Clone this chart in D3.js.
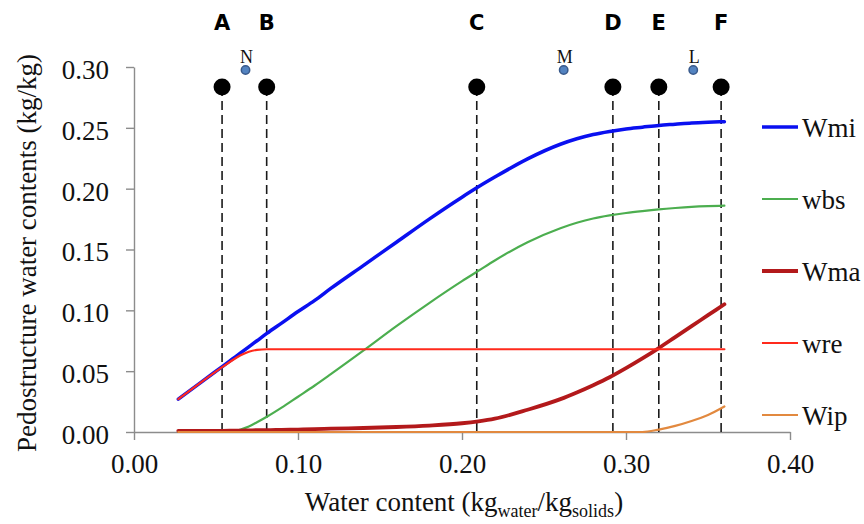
<!DOCTYPE html>
<html><head><meta charset="utf-8">
<script src="https://cdn.jsdelivr.net/npm/d3@7"></script>
<style>
html,body{margin:0;padding:0;background:#fff;}
svg{display:block;}
.serif{font-family:"Liberation Serif","Times New Roman","DejaVu Serif",serif;}
</style>
</head><body>
<svg id="chart" width="864" height="524"></svg>
<script>
// ---- data ----
const waterContent = [0.027,0.04,0.054,0.06,0.065,0.07,0.075,0.081,0.09,0.10,0.11,0.12,0.14,0.16,0.18,0.20,0.21,0.22,0.24,0.26,0.27,0.28,0.29,0.30,0.31,0.32,0.33,0.34,0.35,0.36];
const Wmi = [0.027,0.040,0.054,0.060,0.065,0.070,0.075,0.081,0.0895,0.099,0.108,0.118,0.137,0.156,0.175,0.193,0.2015,0.2095,0.2245,0.2365,0.241,0.2445,0.247,0.249,0.2505,0.252,0.253,0.254,0.2546,0.255];
const wbs = [0,0,0,0,0.002,0.0045,0.008,0.0125,0.020,0.029,0.038,0.0475,0.067,0.087,0.106,0.124,0.1325,0.141,0.156,0.1675,0.172,0.1755,0.178,0.180,0.1816,0.183,0.1841,0.185,0.1856,0.186];
const Wma = [0.001,0.001,0.001,0.0011,0.0012,0.0013,0.0015,0.0015,0.0018,0.002,0.0023,0.0027,0.0033,0.0041,0.0053,0.0072,0.0088,0.011,0.0183,0.027,0.0325,0.0385,0.045,0.0525,0.0605,0.069,0.078,0.087,0.096,0.105];
const wre = [0.027,0.040,0.0535,0.059,0.063,0.066,0.0675,0.068,0.068,0.068,0.068,0.068,0.068,0.068,0.068,0.068,0.068,0.068,0.068,0.068,0.068,0.068,0.068,0.068,0.068,0.068,0.068,0.068,0.068,0.068];
const Wip = [0,0,0,0,0,0,0,0,0,0,0,0,0,0,0,0,0,0,0,0,0,0,0,0,0,0.002,0.005,0.009,0.014,0.021];

const seriesNames = ["Wmi","wbs","Wma","wre","Wip"];
const seriesValues = [Wmi, wbs, Wma, wre, Wip];
const seriesColors = ["#0a10f0","#4cae4f","#b3191b","#ff2a1c","#e2893f"];
const seriesWidths = [3.5, 2.2, 3.8, 2.2, 2.2];

const stageLabels = ["A","B","C","D","E","F"];
const stageX = [0.0537, 0.0809, 0.209, 0.292, 0.320, 0.358];
const stageY = 0.2835;

const pointLabels = ["N","M","L"];
const pointX = [0.068, 0.262, 0.341];
const pointY = 0.2975;

const xTicks = [0.00,0.10,0.20,0.30,0.40];
const yTicks = [0.00,0.05,0.10,0.15,0.20,0.25,0.30];

// ---- chart ----
const svg = d3.select("#chart");
const x = d3.scaleLinear().domain([0,0.40]).range([134,790]);
const y = d3.scaleLinear().domain([0,0.30]).range([432,67]);
const axisColor = "#8c8c8c";

// axes
const gx = svg.append("g").attr("transform",`translate(0,${y(0)})`)
  .call(d3.axisBottom(x).tickValues(xTicks).tickFormat(d3.format(".2f")).tickSizeInner(8).tickSizeOuter(0).tickPadding(14));
const gy = svg.append("g").attr("transform",`translate(${x(0)},0)`)
  .call(d3.axisLeft(y).tickValues(yTicks).tickFormat(d3.format(".2f")).tickSizeInner(8).tickSizeOuter(0).tickPadding(17));
[gx,gy].forEach(g=>{
  g.attr("font-family",null).attr("font-size",null);
  g.selectAll(".domain").attr("stroke",axisColor).attr("stroke-width",1.4);
  g.selectAll(".tick line").attr("stroke",axisColor).attr("stroke-width",1.4);
  g.selectAll(".tick text").attr("class","serif").style("font-size","27px").attr("fill","#111");
});
gx.selectAll(".tick text").attr("dy","0.71em");
gy.selectAll(".tick text").attr("dy","0.42em");

// dashed stage lines
svg.append("g").selectAll("line").data(stageX).join("line")
  .attr("x1",d=>x(d)).attr("x2",d=>x(d))
  .attr("y1",y(stageY)).attr("y2",y(0))
  .attr("stroke","#1a1a1a").attr("stroke-width",1.6).attr("stroke-dasharray","9,5");

// series
const line = d3.line().curve(d3.curveMonotoneX);
seriesValues.forEach((vals,i)=>{
  const pts = waterContent.map((w,j)=>[x(w), y(vals[j])]);
  svg.append("path").attr("d",line(pts)).attr("fill","none")
    .attr("stroke",seriesColors[i]).attr("stroke-width",seriesWidths[i])
    .attr("stroke-linejoin","round").attr("stroke-linecap","round");
});

// stage markers
svg.append("g").selectAll("circle").data(stageX).join("circle")
  .attr("cx",d=>x(d)).attr("cy",y(stageY)).attr("r",8.5).attr("fill","#000");
svg.append("g").selectAll("text").data(stageLabels).join("text")
  .attr("x",(d,i)=>x(stageX[i])).attr("y",30).attr("text-anchor","middle")
  .style("font-family","'DejaVu Sans',sans-serif").style("font-weight","bold").style("font-size","21px")
  .attr("fill","#000").text(d=>d);

// blue points
svg.append("g").selectAll("circle").data(pointX).join("circle")
  .attr("cx",d=>x(d)).attr("cy",y(pointY)).attr("r",4.2)
  .attr("fill","#5383c0").attr("stroke","#38598b").attr("stroke-width",1.5);
svg.append("g").selectAll("text").data(pointLabels).join("text")
  .attr("class","serif")
  .attr("x",(d,i)=>x(pointX[i])+1).attr("y",63).attr("text-anchor","middle")
  .style("font-size","18px").attr("fill","#111").text(d=>d);

// legend
const lg = svg.append("g");
seriesNames.forEach((n,i)=>{
  const ly = 127 + i*72;
  lg.append("line").attr("x1",762).attr("x2",798).attr("y1",ly).attr("y2",ly)
    .attr("stroke",seriesColors[i]).attr("stroke-width",seriesWidths[i]);
  lg.append("text").attr("class","serif").attr("x",802).attr("y",ly+10)
    .style("font-size","27px").attr("fill","#111").text(n);
});

// axis titles
svg.append("text").attr("class","serif").attr("transform","translate(36,253) rotate(-90)")
  .attr("text-anchor","middle").style("font-size","27px").attr("fill","#111")
  .text("Pedostructure water contents (kg/kg)");
const xt = svg.append("text").attr("class","serif").attr("x",464).attr("y",511).attr("text-anchor","middle")
  .style("font-size","27px").attr("fill","#111");
xt.append("tspan").text("Water content (kg");
xt.append("tspan").style("font-size","18px").attr("dy",6).text("water");
xt.append("tspan").attr("dy",-6).text("/kg");
xt.append("tspan").style("font-size","18px").attr("dy",6).text("solids");
xt.append("tspan").attr("dy",-6).text(")");
</script>
</body></html>
